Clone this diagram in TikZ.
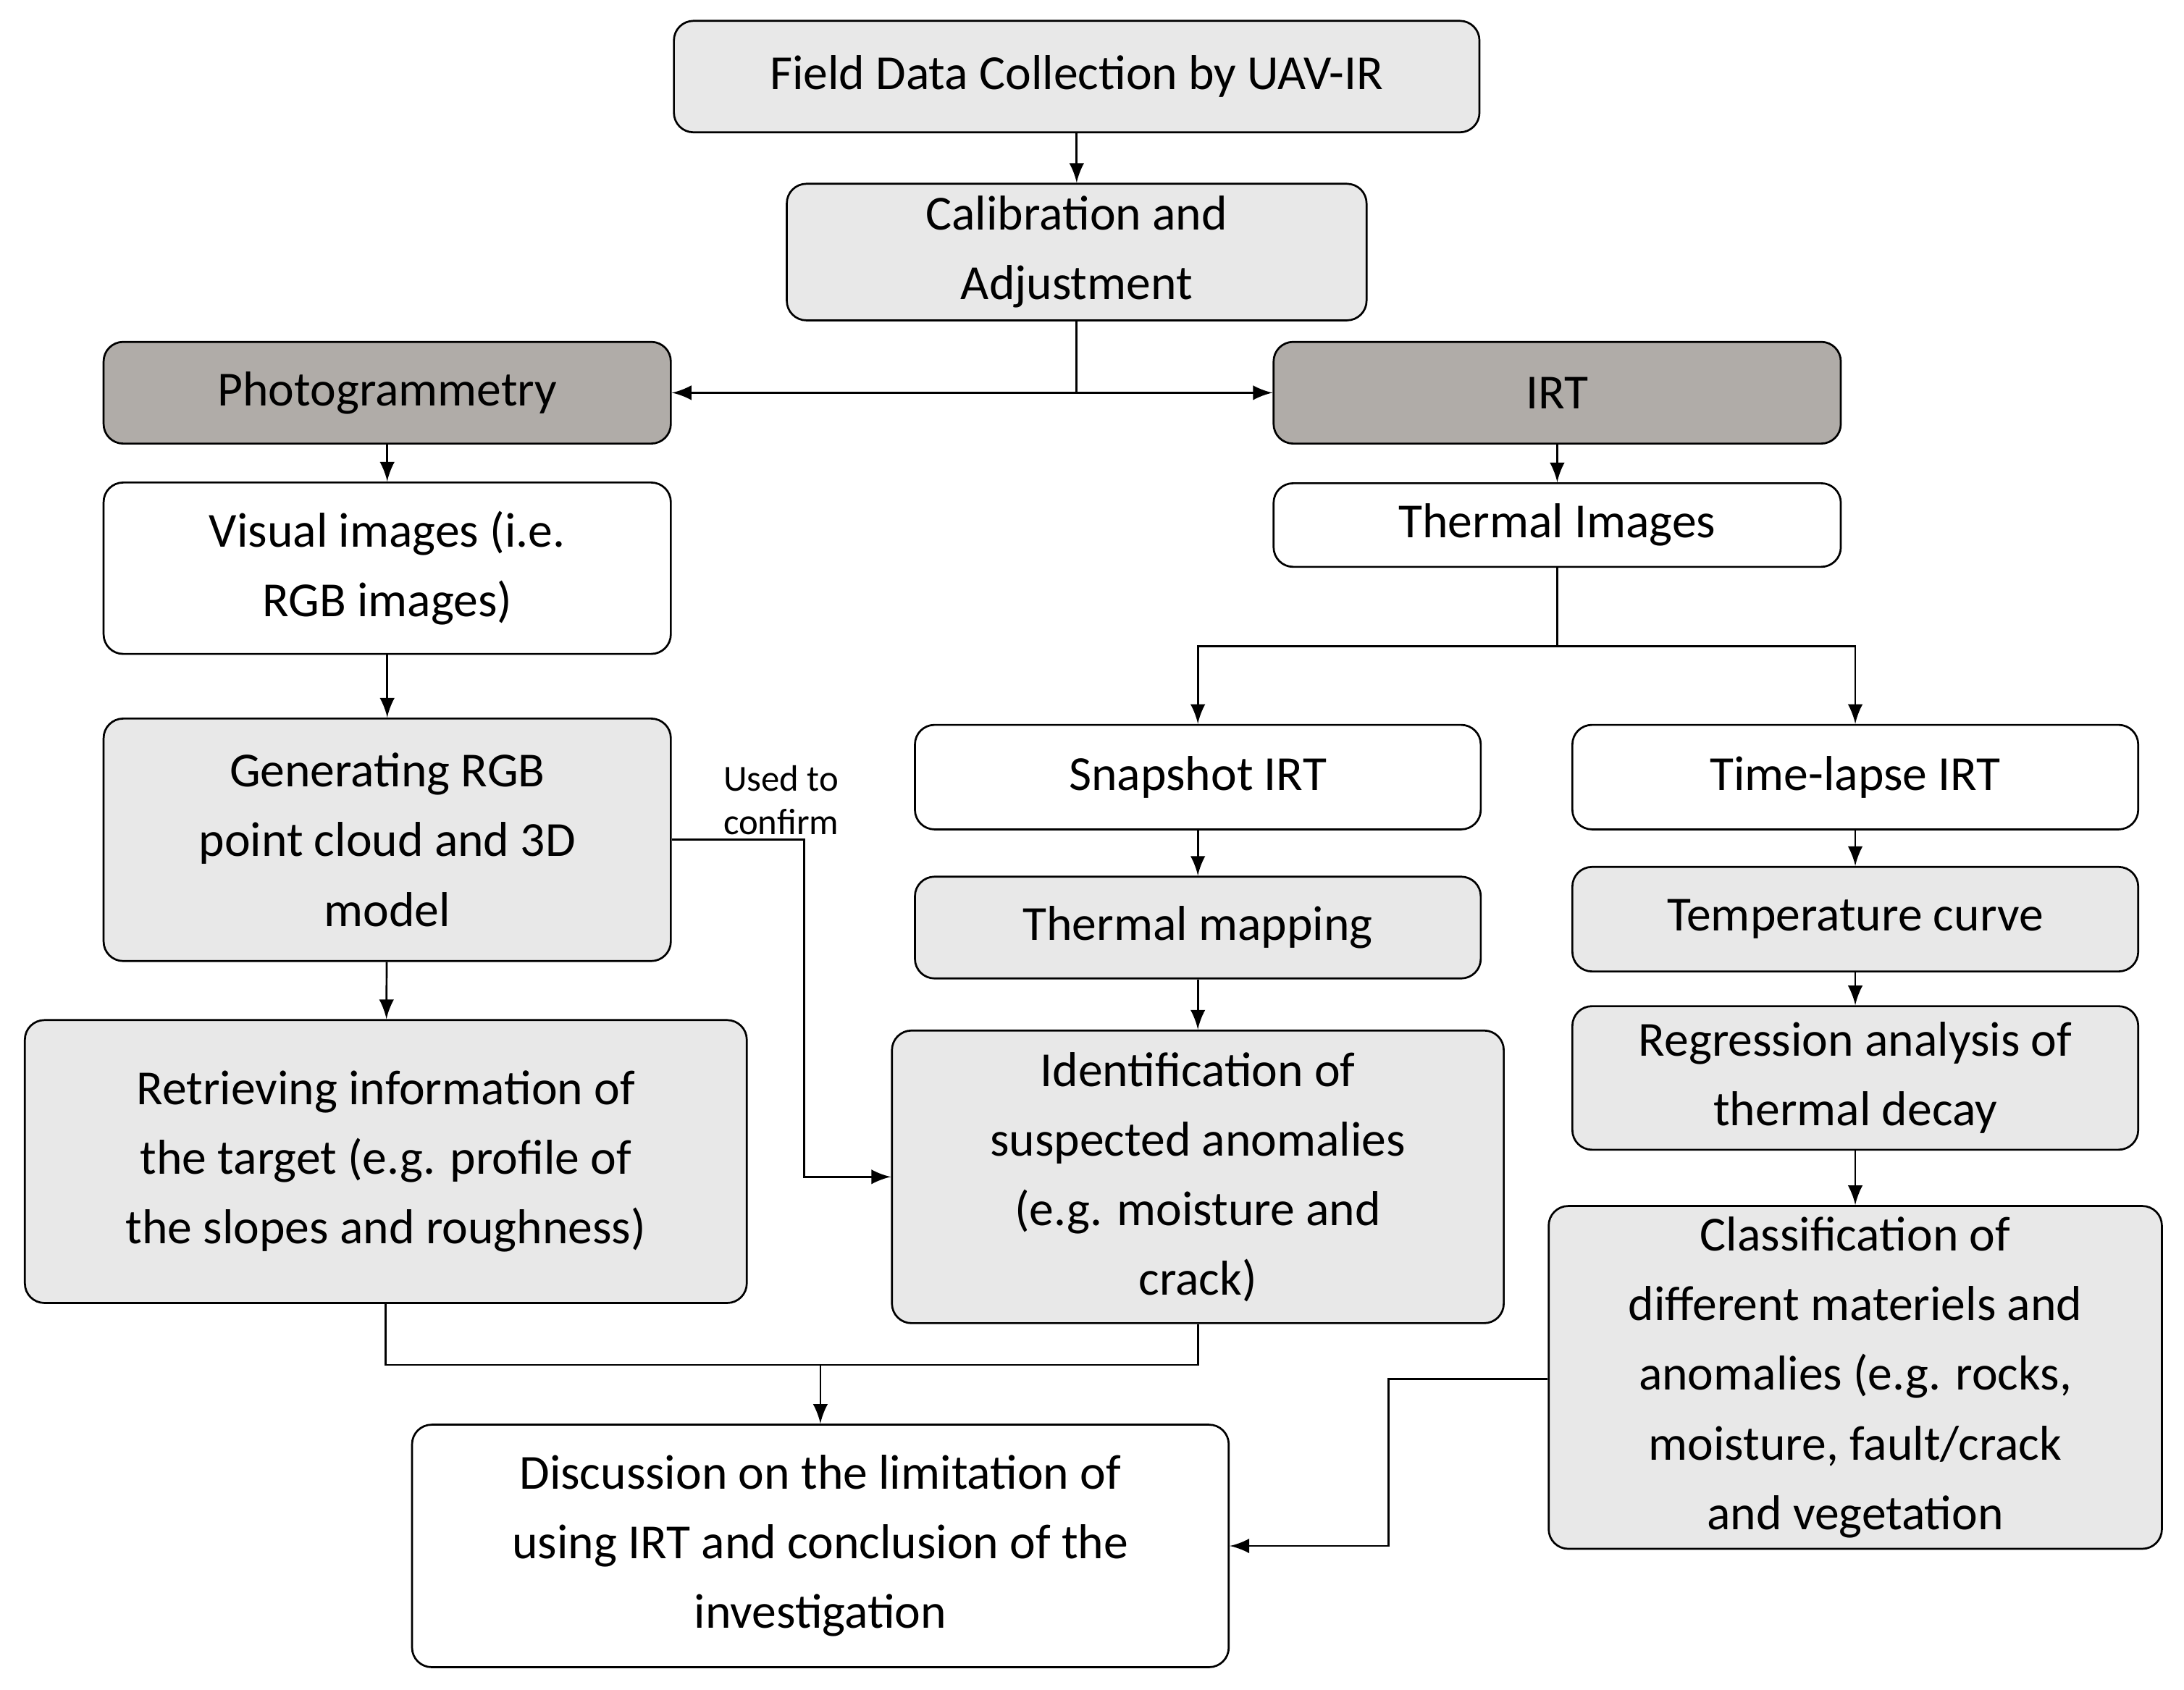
\documentclass[tikz,border=0pt]{standalone}
\usepackage{fontspec}
\setmainfont{Carlito}
\usetikzlibrary{positioning}
\definecolor{boxgray}{RGB}{232,232,232}
\definecolor{darkgray}{RGB}{176,172,168}
\tikzset{
    box/.style={draw, thin, rounded corners=4pt, align=center, inner sep=2pt,
        font=\fontsize{10}{14.2}\selectfont},
    plain/.style={box, fill=white},
    grey/.style={box, fill=boxgray},
    dark/.style={box, fill=darkgray},
    arrow/.style={->, >=latex, thin}
}
\begin{document}
\begin{tikzpicture}[x=0.01cm, y=-0.01cm]
    \useasboundingbox (0,0) rectangle (1568,1213);
    % top
    \node[grey, minimum width=5.78cm, minimum height=0.8cm] (field) at (773,55) {Field Data Collection by UAV-IR};
    \node[grey, minimum width=4.16cm, minimum height=0.98cm] (calib) at (773,181) {Calibration and\\Adjustment};
    \node[dark, minimum width=4.07cm, minimum height=0.73cm] (photo) at (278,282) {Photogrammetry};
    \node[dark, minimum width=4.07cm, minimum height=0.73cm] (irt) at (1118,282) {IRT};

    % left branch
    \node[plain, minimum width=4.07cm, minimum height=1.23cm] (visual) at (278,408) {Visual images (i.e.\\RGB images)};
    \node[grey, minimum width=4.07cm, minimum height=1.74cm] (gen) at (278,603) {Generating RGB\\point cloud and 3D\\model};
    \node[grey, minimum width=5.18cm, minimum height=2.03cm] (retr) at (277,834) {Retrieving information of\\the target (e.g. profile of\\the slopes and roughness)};

    % right branch
    \node[plain, minimum width=4.07cm, minimum height=0.6cm] (thimg) at (1118,377) {Thermal Images};
    \node[plain, minimum width=4.06cm, minimum height=0.75cm] (snap) at (860,558) {Snapshot IRT};
    \node[plain, minimum width=4.06cm, minimum height=0.75cm] (tlapse) at (1332,558) {Time-lapse IRT};
    \node[grey, minimum width=4.06cm, minimum height=0.73cm] (tmap) at (860,666) {Thermal mapping};
    \node[grey, minimum width=4.06cm, minimum height=0.75cm] (tcurve) at (1332,660) {Temperature curve};
    \node[grey, minimum width=4.39cm, minimum height=2.1cm] (ident) at (860,845) {Identification of\\suspected anomalies\\(e.g. moisture and\\crack)};
    \node[grey, minimum width=4.06cm, minimum height=1.03cm] (regr) at (1332,774) {Regression analysis of\\thermal decay};
    \node[grey, minimum width=4.4cm, minimum height=2.46cm] (class) at (1332,989) {Classification of\\different materiels and\\anomalies (e.g. rocks,\\moisture, fault/crack\\and vegetation};

    % bottom
    \node[plain, minimum width=5.86cm, minimum height=1.74cm] (disc) at (589,1110) {Discussion on the limitation of\\using IRT and conclusion of the\\investigation};

    \coordinate (split) at (773,282);
    \coordinate (tsplit) at (1118,464);
    \coordinate (join) at (589,980);

    \draw[arrow] (field) -- (calib);
    \draw (calib) -- (split);
    \draw[arrow] (split) -- (photo);
    \draw[arrow] (split) -- (irt);
    \draw[arrow] (photo) -- (visual);
    \draw[arrow] (visual) -- (gen);
    \draw[arrow] (gen) -- (retr);
    \draw[arrow] (irt) -- (thimg);
    \draw (thimg) -- (tsplit);
    \draw[arrow] (tsplit) -| (snap);
    \draw[arrow] (tsplit) -| (tlapse);
    \draw[arrow] (snap) -- (tmap);
    \draw[arrow] (tmap) -- (ident);
    \draw[arrow] (tlapse) -- (tcurve);
    \draw[arrow] (tcurve) -- (regr);
    \draw[arrow] (regr) -- (class);
    \draw[arrow] (gen.east) -- ++(95,0) |- (ident.west);
    \node[font=\fontsize{7.5}{9}\selectfont, align=left, anchor=north west] (used) at (507,537) {Used to\\confirm};
    \draw (retr.south) |- (join) -| (ident.south);
    \draw[arrow] (join) -- (disc);
    \draw[arrow] (class.west |- 0,990) -- (997,990) |- (disc.east);
\end{tikzpicture}
\end{document}
